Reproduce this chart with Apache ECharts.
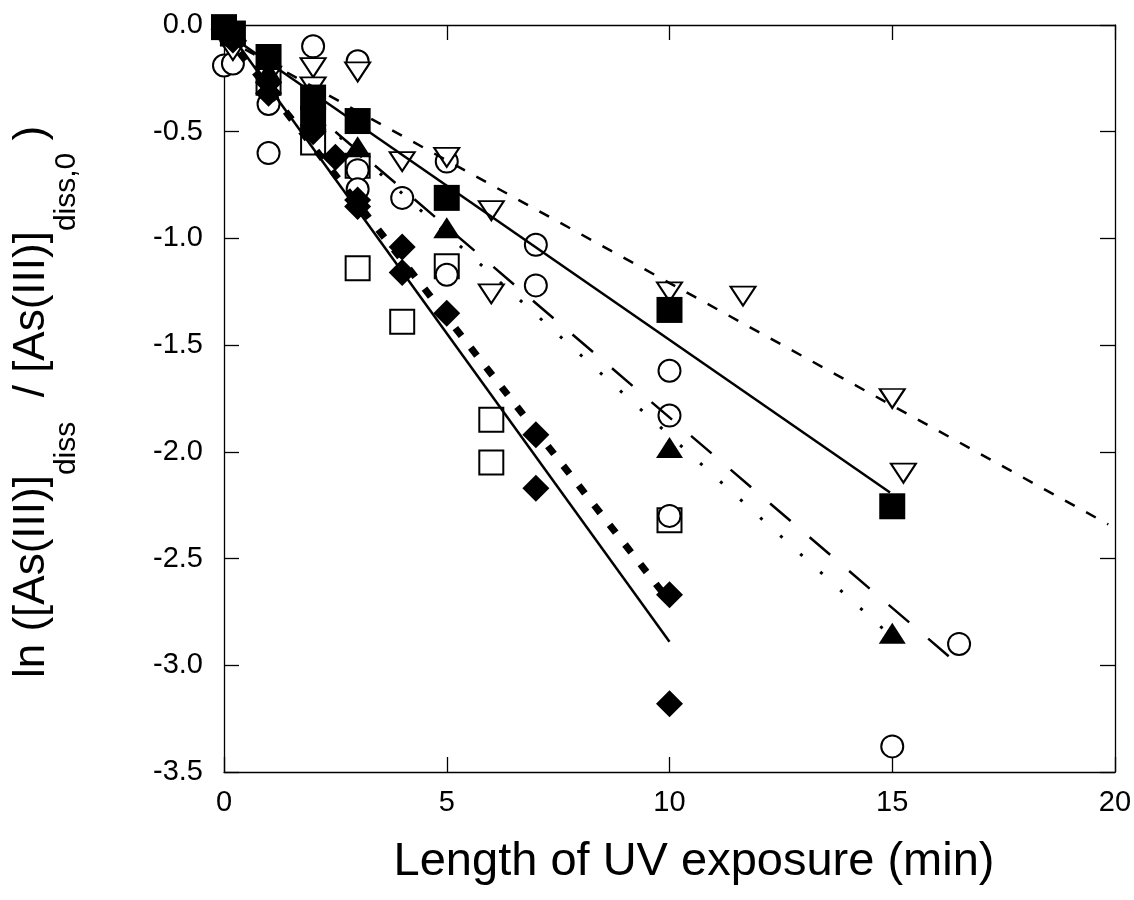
<!DOCTYPE html>
<html>
<head>
<meta charset="utf-8">
<script src="https://cdn.jsdelivr.net/npm/echarts@6/dist/echarts.min.js"></script>
<style>
  html, body { margin: 0; background: #fff; }
  #chart { width: 1134px; height: 900px; }
</style>
</head>
<body>
<div id="chart"></div>
<script>
// 数据
var xTicks = [0, 5, 10, 15, 20];
var yTicks = [0, -0.5, -1.0, -1.5, -2.0, -2.5, -3.0, -3.5];

var openSquares = [[1, -0.27], [2, -0.55], [3, -0.66], [3, -1.14], [4, -1.39], [5, -1.13], [6, -1.85], [6, -2.05], [10, -2.32]];
var openCircles = [[0, -0.19], [0.2, -0.18], [1, -0.37], [1, -0.6], [2, -0.1], [2, -0.48], [3, -0.17], [3, -0.68], [3, -0.77],
  [4, -0.81], [5, -0.64], [5, -1.17], [7, -1.03], [7, -1.22], [10, -1.62], [10, -1.83], [10, -2.3], [15, -3.38], [16.5, -2.9]];
var downTriangles = [[0.2, -0.12], [1, -0.24], [2, -0.2], [2, -0.29], [3, -0.22], [4, -0.64], [5, -0.62], [6, -0.87], [6, -1.26],
  [10, -1.25], [11.65, -1.27], [15, -1.75], [15.25, -2.1]];
var filledTriangles = [[1, -0.22], [2, -0.44], [3, -0.57], [5, -0.95], [10, -1.98], [15, -2.85]];
var filledSquares = [[0, -0.01], [0.2, -0.04], [1, -0.15], [2, -0.34], [2, -0.44], [3, -0.45], [5, -0.81], [10, -1.335], [15, -2.255]];
var filledDiamonds = [[0, -0.02], [0.2, -0.07], [1, -0.27], [1, -0.32], [2, -0.47], [2, -0.5], [2.5, -0.62], [3, -0.82], [3, -0.85],
  [4, -1.04], [4, -1.16], [5, -1.35], [7, -1.92], [7, -2.17], [10, -2.67], [10, -3.18]];

// 拟合直线 (两端点)
var fitShortDash = [[0, -0.06], [19.85, -2.34]];
var fitSolidA = [[0, -0.03], [14.95, -2.19]];
var fitLongDash = [[2.5, -0.5], [16.45, -2.99]];
var fitDotted = [[2.6, -0.525], [14.8, -2.83]];
var fitThickDot = [[0, -0.037], [10, -2.7]];
var fitSolidB = [[0, 0], [10, -2.89]];

var FONT = '"Liberation Sans", Arial, Helvetica, sans-serif';

var chart = echarts.init(document.getElementById('chart'));

function openStyle() {
  return { color: '#fff', borderColor: '#000', borderWidth: 2, opacity: 1 };
}
function filledStyle() {
  return { color: '#000', opacity: 1 };
}
function scatter(name, data, symbol, size, style, rotate) {
  return {
    name: name, type: 'scatter', data: data,
    symbol: symbol, symbolSize: size, symbolRotate: rotate || 0,
    itemStyle: style, z: 2, silent: true, animation: false
  };
}
function fitLine(data, type, width, cap) {
  return {
    type: 'line', data: data, symbol: 'none', z: 3, silent: true, animation: false,
    lineStyle: { color: '#000', width: width, type: type, cap: cap || 'butt', opacity: 1 }
  };
}

// y 轴标题: 带下标, 逐段排版
var measureCtx = document.createElement('canvas').getContext('2d');
function textWidth(s, size) {
  measureCtx.font = size + 'px ' + FONT;
  return measureCtx.measureText(s).width;
}
var titleParts = [
  { t: 'ln ([As(III)]', size: 44, dy: 0 },
  { t: 'diss', size: 30, dy: 35 },
  { t: '  / [As(III)]', size: 44, dy: 0 },
  { t: 'diss,0', size: 30, dy: 35 },
  { t: ' )', size: 44, dy: 0 }
];
var yTitleChildren = [];
var cursor = 0;
titleParts.forEach(function (p) {
  yTitleChildren.push({
    type: 'text', x: cursor, y: p.dy,
    style: { text: p.t, font: p.size + 'px ' + FONT, fill: '#000', align: 'left', verticalAlign: 'middle' }
  });
  cursor += textWidth(p.t, p.size);
});

var axisLineStyle = { color: '#000', width: 1.3 };
var tickStyle = { show: true, inside: true, length: 15, lineStyle: { color: '#000', width: 1.3 } };

var option = {
  backgroundColor: '#fff',
  grid: { left: 224, top: 25, width: 891, height: 747, outerBoundsMode: 'none' },
  xAxis: [
    {
      type: 'value', min: xTicks[0], max: xTicks[xTicks.length - 1], interval: 5, position: 'bottom',
      axisLine: { show: true, onZero: false, lineStyle: axisLineStyle },
      axisTick: tickStyle, splitLine: { show: false },
      axisLabel: { margin: 16, color: '#000', fontSize: 29, fontFamily: FONT }
    },
    {
      type: 'value', min: xTicks[0], max: xTicks[xTicks.length - 1], interval: 5, position: 'top',
      axisLine: { show: true, onZero: false, lineStyle: axisLineStyle },
      axisTick: tickStyle, splitLine: { show: false }, axisLabel: { show: false }
    }
  ],
  yAxis: [
    {
      type: 'value', min: yTicks[yTicks.length - 1], max: yTicks[0], interval: 0.5, position: 'left',
      axisLine: { show: true, onZero: false, lineStyle: axisLineStyle },
      axisTick: tickStyle, splitLine: { show: false },
      axisLabel: {
        margin: 21, color: '#000', fontSize: 29, fontFamily: FONT,
        formatter: function (v) { return v.toFixed(1); }
      }
    },
    {
      type: 'value', min: yTicks[yTicks.length - 1], max: yTicks[0], interval: 0.5, position: 'right',
      axisLine: { show: true, onZero: false, lineStyle: axisLineStyle },
      axisTick: tickStyle, splitLine: { show: false }, axisLabel: { show: false }
    }
  ],
  series: [
    scatter('open squares', openSquares, 'rect', 24, openStyle()),
    scatter('open circles', openCircles, 'circle', 22, openStyle()),
    scatter('open down triangles', downTriangles, 'triangle', [25, 19], openStyle(), 180),
    scatter('filled triangles', filledTriangles, 'triangle', [27, 21], filledStyle()),
    scatter('filled squares', filledSquares, 'rect', 26, filledStyle()),
    scatter('filled diamonds', filledDiamonds, 'diamond', [27, 27], filledStyle()),
    fitLine(fitShortDash, [11, 13], 2.5),
    fitLine(fitSolidA, 'solid', 2.5),
    fitLine(fitLongDash, [27, 25], 2.5),
    fitLine(fitDotted, [3, 24], 3),
    fitLine(fitThickDot, [10, 15], 7),
    fitLine(fitSolidB, 'solid', 2.5)
  ],
  graphic: [
    {
      type: 'text', x: 694, y: 862,
      style: { text: 'Length of UV exposure (min)', font: '47px ' + FONT, fill: '#000', align: 'center', verticalAlign: 'middle' }
    },
    {
      type: 'group', x: 31.6, y: 678, rotation: Math.PI / 2,
      children: yTitleChildren
    }
  ]
};

chart.setOption(option);
</script>
</body>
</html>
